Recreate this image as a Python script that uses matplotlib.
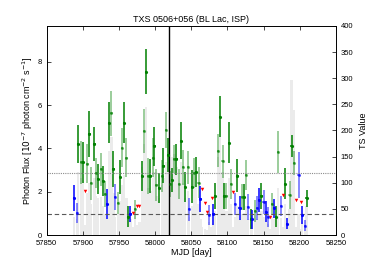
import numpy as np
import matplotlib.pyplot as plt

plt.rcParams['font.family'] = ['Liberation Sans', 'DejaVu Sans']

# ── data ──────────────────────────────────────────────────
green_mjd = [57893.8, 57897.5, 57900.3, 57906.3, 57909.1, 57911.4, 57916.0, 57918.7,
             57921.0, 57924.7, 57927.5, 57930.7, 57935.8, 57939.5, 57942.3, 57948.7,
             57951.5, 57954.3, 57957.0, 57960.3, 57963.0, 57972.3, 57981.5, 57984.3,
             57987.5, 57990.7, 57993.5, 57996.7, 57999.0, 58001.8, 58005.5, 58009.2,
             58011.5, 58014.7, 58017.5, 58020.7, 58023.5, 58026.7, 58029.5, 58032.7,
             58035.5, 58038.7, 58041.5, 58045.2, 58051.2, 58054.0, 58056.7, 58060.0,
             58083.0, 58087.2, 58089.9, 58093.2, 58095.5, 58098.7, 58101.9, 58105.1,
             58113.9, 58120.4, 58123.1, 58125.9, 58132.4, 58138.4, 58147.1, 58161.5,
             58167.0, 58170.2, 58179.9, 58185.9, 58188.7, 58191.9, 58209.4]
green_flux = [4.20, 3.35, 3.35, 3.28, 4.66, 2.38, 4.20, 2.85,
              2.60, 3.03, 2.49, 1.89, 5.18, 5.62, 3.05, 1.48,
              2.68, 4.02, 5.18, 3.57, 0.85, 1.18, 2.72, 4.80,
              7.54, 2.72, 2.72, 3.57, 4.10, 2.30, 2.17, 2.72,
              3.20, 4.85, 3.70, 2.34, 2.52, 3.49, 3.49, 2.35,
              4.35, 3.12, 2.23, 3.12, 2.23, 2.86, 2.90, 2.42,
              1.78, 3.89, 5.46, 3.40, 1.82, 1.82, 4.26, 2.34,
              2.74, 1.77, 1.77, 2.78, 0.75, 1.11, 1.82, 1.43,
              0.85, 3.83, 2.37, 1.83, 4.12, 3.32, 1.69]
green_err = [0.88, 1.00, 0.95, 0.90, 1.05, 0.75, 0.80, 0.70,
             0.70, 0.75, 0.70, 0.60, 0.95, 1.05, 0.85, 0.50,
             0.80, 0.90, 0.95, 0.90, 0.50, 0.45, 0.70, 1.00,
             1.05, 0.85, 0.80, 0.90, 0.90, 0.75, 0.70, 0.75,
             0.80, 0.85, 0.80, 0.60, 0.55, 0.65, 0.70, 0.70,
             0.85, 0.80, 0.70, 0.75, 0.75, 0.70, 0.70, 0.70,
             0.60, 0.75, 0.95, 0.75, 0.60, 0.60, 0.95, 0.70,
             0.75, 0.60, 0.60, 0.70, 0.45, 0.50, 0.60, 0.50,
             0.50, 0.95, 0.70, 0.65, 0.50, 0.55, 0.40]

blue_mjd = [57887.8, 57891.5, 57933.0, 57945.0, 57965.8, 58047.0, 58062.7, 58074.2,
            58080.7, 58110.7, 58116.7, 58128.7, 58134.2, 58141.1, 58143.9, 58149.9,
            58153.1, 58155.9, 58165.1, 58173.9, 58182.7, 58198.4, 58203.4, 58207.1]
blue_flux = [1.71, 1.02, 1.42, 1.75, 0.97, 1.18, 1.66, 0.92,
             0.95, 1.43, 1.23, 1.29, 0.72, 1.25, 1.62, 1.52,
             1.08, 0.83, 1.23, 1.34, 0.52, 2.78, 0.92, 0.43]
blue_err = [0.60, 0.45, 0.70, 0.60, 0.35, 0.55, 0.60, 0.45,
            0.50, 0.50, 0.55, 0.60, 0.45, 0.55, 0.55, 0.55,
            0.50, 0.45, 0.45, 0.45, 0.25, 1.05, 0.40, 0.25]

ul_mjd = [57903.0, 57969.0, 57975.0, 57978.3, 58065.0, 58068.7, 58071.5, 58078.0,
          58107.4, 58159.1, 58176.7, 58195.1, 58201.1]
ul_flux = [2.05, 1.00, 1.34, 1.34, 2.14, 1.49, 1.05, 1.72,
           2.00, 0.85, 1.85, 1.60, 1.52]

# TS value per 3-day bin, in time order of all bins (blue, green and upper limits)
ts_value = [35, 30, 120, 110, 105, 20, 80, 100, 60, 110, 75, 70, 72, 55, 40, 30,
            160, 188, 80, 35, 40, 65, 95, 115, 70, 40, 30, 15, 45, 20, 25, 130,
            175, 245, 90, 85, 110, 120, 75, 70, 95, 110, 140, 120, 100, 150, 155, 130,
            95, 140, 100, 70, 85, 35, 55, 90, 95, 60, 30, 15, 12, 10, 25, 15,
            28, 45, 150, 188, 120, 50, 45, 110, 60, 15, 35, 55, 30, 40, 42, 55,
            30, 35, 25, 40, 30, 38, 45, 35, 28, 22, 12, 35, 30, 30, 90, 32,
            15, 60, 20, 50, 297, 239, 15, 40, 12, 25, 15, 55]

neutrino_mjd = 58018.87
flux_dashed = 0.97
flux_dotted = 2.88

bin_days = 3.0

# ── plot ──────────────────────────────────────────────────
fig = plt.figure(figsize=(3.74, 2.62), dpi=100)
ax = fig.add_axes([0.125, 0.103, 0.773, 0.798])
ax2 = ax.twinx()

all_mjd = np.sort(np.concatenate([green_mjd, blue_mjd, ul_mjd]))
ax2.bar(all_mjd, ts_value, width=bin_days, color='0.92', edgecolor='none', zorder=1)
ax2.set_ylim(0, 400)
ax2.set_yticks(np.arange(0, 401, 50))
ax2.set_ylabel('TS Value', fontsize=6.5)
ax2.tick_params(axis='y', direction='in', labelsize=5.5, length=3, width=0.5)

ax.set_zorder(ax2.get_zorder() + 1)
ax.patch.set_visible(False)

g_mjd = np.array(green_mjd)
g_flux = np.array(green_flux)
g_err = np.array(green_err)
for sel, a in [(slice(0, None, 2), 1.0), (slice(1, None, 2), 0.5)]:
    ax.errorbar(g_mjd[sel], g_flux[sel], yerr=g_err[sel], xerr=bin_days / 2,
                fmt='.', color='green', ms=2.5, elinewidth=1.1, capsize=0, alpha=a)

b_mjd = np.array(blue_mjd)
b_flux = np.array(blue_flux)
b_err = np.array(blue_err)
for sel, a in [(slice(0, None, 2), 1.0), (slice(1, None, 2), 0.6)]:
    ax.errorbar(b_mjd[sel], b_flux[sel], yerr=b_err[sel], xerr=bin_days / 2,
                fmt='.', color='blue', ms=2.5, elinewidth=1.1, capsize=0, alpha=a)

ax.plot(ul_mjd, ul_flux, 'v', color='red', ms=2.5, mec='none')

ax.axvline(neutrino_mjd, color='black', lw=1.0)
ax.axhline(flux_dashed, color='0.35', lw=0.8, ls=(0, (4, 2.5)))
ax.axhline(flux_dotted, color='0.55', lw=0.8, ls=(0, (1, 1)))

ax.set_xlim(57850, 58250)
ax.set_ylim(0, 9.65)
ax.set_xticks(np.arange(57850, 58251, 50))
ax.set_yticks([0, 2, 4, 6, 8])
ax.tick_params(direction='in', labelsize=5.5, length=3, width=0.5, top=True)
ax.tick_params(axis='y', right=False)
ax.set_xlabel('MJD [day]', fontsize=6.5, labelpad=1)
ax.set_ylabel('Photon Flux [$10^{-7}$ photon cm$^{-2}$ s$^{-1}$]', fontsize=6.5, labelpad=2)
ax.set_title('TXS 0506+056 (BL Lac, ISP)', fontsize=6.5, pad=3)
for s in ax.spines.values():
    s.set_linewidth(0.6)
for s in ax2.spines.values():
    s.set_linewidth(0.6)

fig.savefig('out.png', dpi=100)
